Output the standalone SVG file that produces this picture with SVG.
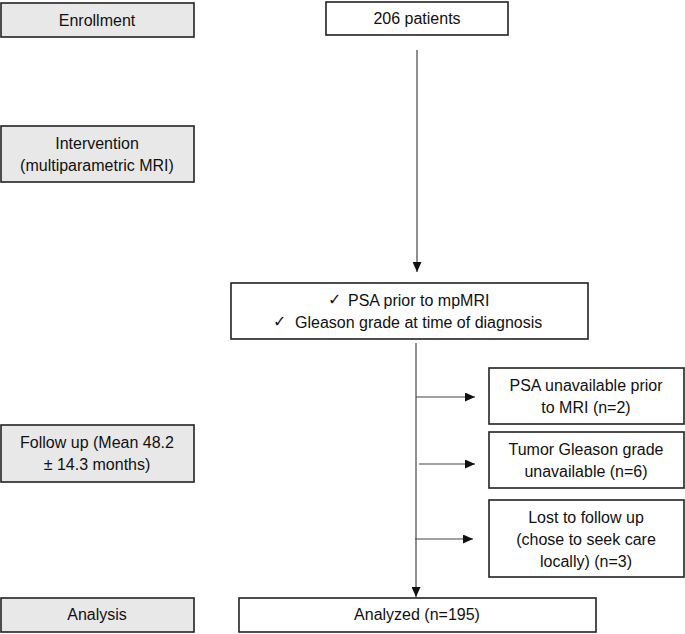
<svg xmlns="http://www.w3.org/2000/svg" width="685" height="634" viewBox="0 0 685 634">
<style>
text{font-family:"Liberation Sans",Arial,sans-serif;font-size:16px;fill:#111;text-anchor:middle}
.stage{fill:#e8e8e8;stroke:#222;stroke-width:1.6}
.box{fill:#fff;stroke:#222;stroke-width:1.6}
.con{stroke:#444;stroke-width:1.2;fill:none}
.chk{font-family:"DejaVu Sans",sans-serif;font-size:16px;text-anchor:start}
.l{text-anchor:start}
</style>
<defs>
<marker id="ah" viewBox="0 0 10 10" refX="10" refY="5" markerWidth="10" markerHeight="9" markerUnits="userSpaceOnUse" orient="auto" preserveAspectRatio="none">
<path d="M0,0 L10,5 L0,10 z" fill="#111"/>
</marker>
</defs>
<g id="enrollment"><rect class="stage" x="1" y="3" width="193" height="34"/><text x="97" y="26">Enrollment</text></g>
<g id="intervention"><rect class="stage" x="1" y="126" width="193" height="56"/><text x="97" y="149">Intervention</text><text x="97" y="171">(multiparametric MRI)</text></g>
<g id="followup"><rect class="stage" x="1" y="425" width="193" height="57"/><text x="97" y="448">Follow up (Mean 48.2</text><text x="97" y="470">± 14.3 months)</text></g>
<g id="analysis"><rect class="stage" x="1" y="598" width="193" height="34"/><text x="97" y="620">Analysis</text></g>
<g id="patients"><rect class="box" x="326" y="2" width="182" height="33"/><text x="417" y="24">206 patients</text></g>
<g id="criteria"><rect class="box" x="231" y="283" width="357" height="56"/>
<text class="chk" x="328" y="305">✓</text><text class="l" x="348" y="306">PSA prior to mpMRI</text>
<text class="chk" x="273" y="327">✓</text><text class="l" x="295" y="328">Gleason grade at time of diagnosis</text></g>
<g id="excl1"><rect class="box" x="489" y="368" width="195" height="56"/><text x="586" y="391">PSA unavailable prior</text><text x="586" y="413">to MRI (n=2)</text></g>
<g id="excl2"><rect class="box" x="489" y="432" width="195" height="56"/><text x="586" y="455">Tumor Gleason grade</text><text x="586" y="477">unavailable (n=6)</text></g>
<g id="excl3"><rect class="box" x="489" y="500" width="195" height="77"/><text x="586" y="523">Lost to follow up</text><text x="586" y="545">(chose to seek care</text><text x="586" y="567">locally) (n=3)</text></g>
<g id="analyzed"><rect class="box" x="239" y="598" width="357" height="34"/><text x="417" y="620">Analyzed (n=195)</text></g>
<g id="connectors">
<line class="con" x1="417" y1="50" x2="417" y2="272" marker-end="url(#ah)"/>
<line class="con" x1="416" y1="343" x2="416" y2="597" marker-end="url(#ah)"/>
<line class="con" x1="416" y1="397" x2="475" y2="397" marker-end="url(#ah)"/>
<line class="con" x1="419" y1="464" x2="475" y2="464" marker-end="url(#ah)"/>
<line class="con" x1="415" y1="539" x2="473" y2="539" marker-end="url(#ah)"/>
</g>
</svg>
